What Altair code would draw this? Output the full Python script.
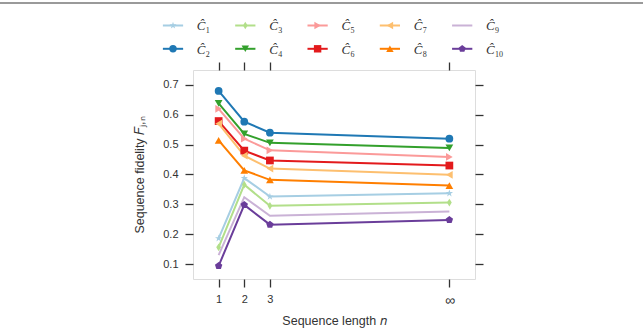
import altair as alt
import pandas as pd

# ---- data ----
n_pos = [1, 2, 3, 10]          # position of "∞" drawn at 10
keys = ["C1", "C2", "C3", "C4", "C5", "C6", "C7", "C8", "C9", "C10"]
sub_labels = ["1", "2", "3", "4", "5", "6", "7", "8", "9", "10"]
C1 = [0.186, 0.388, 0.326, 0.337]
C2 = [0.680, 0.577, 0.540, 0.520]
C3 = [0.156, 0.366, 0.295, 0.306]
C4 = [0.638, 0.536, 0.506, 0.489]
C5 = [0.620, 0.520, 0.481, 0.459]
C6 = [0.579, 0.480, 0.447, 0.430]
C7 = [0.570, 0.463, 0.420, 0.399]
C8 = [0.514, 0.414, 0.382, 0.363]
C9 = [0.130, 0.324, 0.262, 0.276]
C10 = [0.094, 0.298, 0.232, 0.248]
series = [C1, C2, C3, C4, C5, C6, C7, C8, C9, C10]

# ---- styles ----
colors = ["#a6cee3", "#1f78b4", "#b2df8a", "#33a02c", "#fb9a99",
          "#e31a1c", "#fdbf6f", "#ff7f00", "#cab2d6", "#6a3d9a"]
STAR = ("M0,-1L0.2235,-0.3075L0.951,-0.309L0.3614,0.1174L0.588,0.809L0,0.38"
        "L-0.588,0.809L-0.3614,0.1174L-0.951,-0.309L-0.2235,-0.3075Z")
PENT = "M0,-1L0.951,-0.309L0.588,0.809L-0.588,0.809L-0.951,-0.309Z"
TDIAM = "M0,-1L0.62,0L0,1L-0.62,0Z"
marker_keys = ["C1", "C2", "C3", "C4", "C5", "C6", "C7", "C8", "C10"]
marker_shapes = [STAR, "circle", TDIAM, "triangle-down", "triangle-right",
                 "square", "triangle-left", "triangle-up", PENT]

rows = []
for k, vals in zip(keys, series):
    for n, v in zip(n_pos, vals):
        rows.append({"key": k, "n": n, "value": v})
df = pd.DataFrame(rows)

leg = pd.DataFrame({"key": keys, "sub": sub_labels,
                    "col": [i // 2 for i in range(len(keys))],
                    "row": [i % 2 for i in range(len(keys))]})

AX = "#333333"
FONT = "Liberation Sans"

xs = alt.Scale(domain=[0, 11], nice=False, zero=False)
ys = alt.Scale(domain=[0.05, 0.75], nice=False, zero=False)
cs = alt.Scale(domain=keys, range=colors)
ss = alt.Scale(domain=marker_keys, range=marker_shapes)

x_axis = alt.Axis(orient="bottom", values=n_pos, labelExpr="datum.value == 10 ? '∞' : datum.label",
                  title="Sequence length 𝑛", grid=False, domain=False, tickSize=8, tickWidth=1.3,
                  tickColor=AX, labelColor=AX, labelFont=FONT,
                  labelFontSize={"condition": {"test": "datum.value == 10", "value": 14}, "value": 11},
                  labelPadding=6,
                  titleFont=FONT, titleFontSize=12.5, titleFontWeight="normal", titleColor=AX,
                  titlePadding=7)
y_axis = alt.Axis(orient="left", values=[0.1, 0.2, 0.3, 0.4, 0.5, 0.6, 0.7], format=".1f",
                  title="Sequence fidelity 𝐹ⱼ,ₙ", grid=False, domain=False, tickSize=8, tickWidth=1.3,
                  tickColor=AX, labelColor=AX, labelFont=FONT, labelFontSize=11, labelPadding=7,
                  titleFont=FONT, titleFontSize=12.5, titleFontWeight="normal", titleColor=AX,
                  titlePadding=16)
x_top = alt.Axis(orient="top", values=n_pos, labels=False, title=None, grid=False, domain=False,
                 tickSize=8, tickWidth=1.3, tickColor=AX)
y_right = alt.Axis(orient="right", values=[0.1, 0.2, 0.3, 0.4, 0.5, 0.6, 0.7], labels=False,
                   title=None, grid=False, domain=False, tickSize=8, tickWidth=1.3, tickColor=AX)

base = alt.Chart(df)
lines = base.mark_line(strokeWidth=2).encode(
    x=alt.X("n:Q", scale=xs, axis=x_axis),
    y=alt.Y("value:Q", scale=ys, axis=y_axis),
    color=alt.Color("key:N", scale=cs, legend=None),
)
points = base.transform_filter(alt.FieldOneOfPredicate(field="key", oneOf=marker_keys)).mark_point(
    filled=True, size=60, opacity=1).encode(
    x=alt.X("n:Q", scale=xs, axis=x_top),
    y=alt.Y("value:Q", scale=ys, axis=y_right),
    color=alt.Color("key:N", scale=cs, legend=None),
    shape=alt.Shape("key:N", scale=ss, legend=None),
)
main = alt.layer(lines, points)

# ---- hand-built legend with its own scales ----
lxs = alt.Scale(domain=[0.2766, 4.177], nice=False, zero=False)
lys = alt.Scale(domain=[1.91, 10.88], nice=False, zero=False, reverse=True)
lbase = alt.Chart(leg).transform_calculate(
    x0="datum.col - 0.14", x1="datum.col + 0.14", xt="datum.col + 0.33")
leg_rule = lbase.mark_rule(strokeWidth=2).encode(
    x=alt.X("x0:Q", scale=lxs, axis=None), x2="x1:Q",
    y=alt.Y("row:Q", scale=lys, axis=None),
    color=alt.Color("key:N", scale=cs, legend=None))
leg_pt = lbase.transform_filter(alt.FieldOneOfPredicate(field="key", oneOf=marker_keys)).mark_point(
    filled=True, size=55, opacity=1).encode(
    x=alt.X("col:Q", scale=lxs, axis=None),
    y=alt.Y("row:Q", scale=lys, axis=None),
    color=alt.Color("key:N", scale=cs, legend=None),
    shape=alt.Shape("key:N", scale=ss, legend=None))
leg_txt = lbase.mark_text(text="Ĉ", font="Liberation Serif", fontStyle="italic", fontSize=13,
                          align="left", baseline="alphabetic", dy=5, color="#333333").encode(
    x=alt.X("xt:Q", scale=lxs, axis=None),
    y=alt.Y("row:Q", scale=lys, axis=None))
leg_sub = lbase.mark_text(font="Liberation Serif", fontSize=8, align="left", baseline="alphabetic",
                          dx=9, dy=8, color="#333333").encode(
    x=alt.X("xt:Q", scale=lxs, axis=None),
    y=alt.Y("row:Q", scale=lys, axis=None),
    text="sub:N")
top_line = lbase.mark_rule(strokeWidth=2, color="#9a9a9a").encode(
    x=alt.value(-193), x2=alt.value(450), y=alt.value(-67))
legend = alt.layer(leg_rule, leg_pt, leg_txt, leg_sub, top_line)

chart = alt.layer(main, legend).resolve_scale(x="independent", y="independent").properties(
    width=282, height=209,
    padding={"left": 193, "top": 70, "right": 168, "bottom": 52},
    autosize=alt.AutoSizeParams(type="none"),
).configure_view(stroke=AX, strokeWidth=1.6).configure(background="white")

chart.save("out.html", embed_options={"renderer": "svg", "actions": False})
